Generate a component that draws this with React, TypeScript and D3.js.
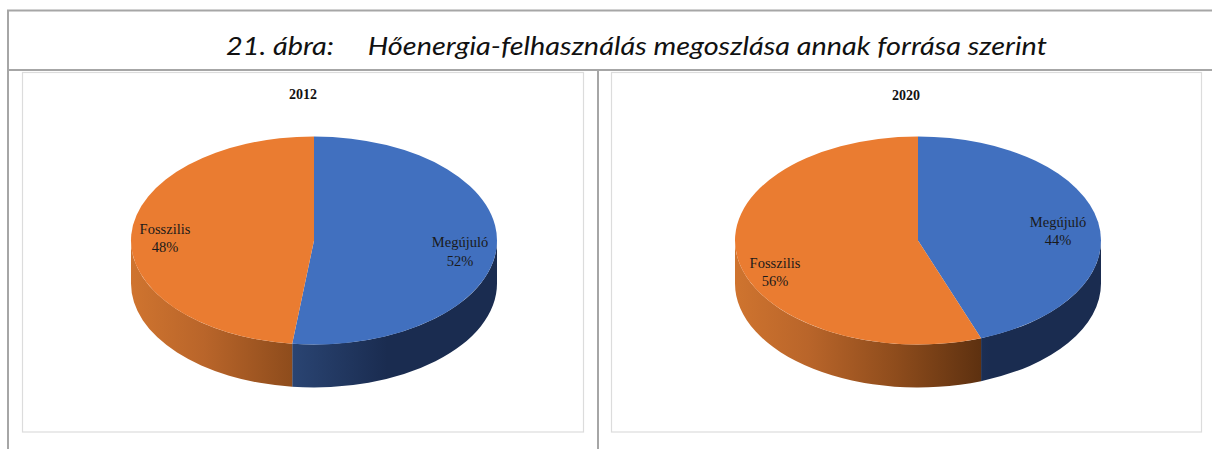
import React from "react";
import * as d3 from "d3";

const categories = ["Megújuló", "Fosszilis"];
const years = ["2012", "2020"];
const values2012 = [51.9, 48.1];
const values2020 = [44.4, 55.6];
const titleText = "21. ábra:\u00a0\u00a0\u00a0\u00a0\u00a0Hőenergia-felhasználás megoszlása annak forrása szerint";

const W = 1212, H = 449;
const RX = 183, RY = 104, DEPTH = 43, CY = 240.5;
const LINE = "#a6a6a6";
const TOP = ["#4170bf", "#ea7c31"];

const panels = [
  { year: years[0], values: values2012, cx: 314, box: [22.5, 72.5, 561, 359.5], titleX: 303, titleY: 99,
    labels: [[460, 247], [165, 233.5]] },
  { year: years[1], values: values2020, cx: 918, box: [611.5, 72.5, 590, 359.5], titleX: 906, titleY: 100,
    labels: [[1058, 226.5], [775, 267.5]] },
];

const pt = (t: number, cx: number, cy: number) => [cx + RX * Math.sin(t), cy - RY * Math.cos(t)];

function sidePath(a0: number, a1: number, cx: number) {
  const s = Math.max(a0, Math.PI / 2), e = Math.min(a1, (3 * Math.PI) / 2);
  if (e <= s) return null;
  const [x0, y0] = pt(s, cx, CY), [x1, y1] = pt(e, cx, CY);
  return `M${x0},${y0}A${RX},${RY} 0 0 1 ${x1},${y1}L${x1},${y1 + DEPTH}A${RX},${RY} 0 0 0 ${x0},${y0 + DEPTH}Z`;
}

function Pie3D({ p, idx }: { p: (typeof panels)[number]; idx: number }) {
  const arcs = d3.pie<number>().sort(null).startAngle(0).endAngle(2 * Math.PI)(p.values);
  const arc = d3.arc<d3.PieArcDatum<number>>().innerRadius(0).outerRadius(RX);
  const gx = (f: number) => p.cx - RX + f * 2 * RX;
  return (
    <g>
      <defs>
        <linearGradient id={`b${idx}`} gradientUnits="userSpaceOnUse" x1={gx(0)} x2={gx(1)} y1={0} y2={0}>
          <stop offset="0.42" stopColor="#2b4675" />
          <stop offset="0.7" stopColor="#1a2c50" />
          <stop offset="1" stopColor="#1a2c50" />
        </linearGradient>
        <linearGradient id={`o${idx}`} gradientUnits="userSpaceOnUse" x1={gx(0)} x2={gx(1)} y1={0} y2={0}>
          <stop offset="0" stopColor="#cf742f" />
          <stop offset="0.2" stopColor="#b9652a" />
          <stop offset="0.44" stopColor="#8e4c1c" />
          <stop offset="0.67" stopColor="#5e3110" />
          <stop offset="1" stopColor="#4a270c" />
        </linearGradient>
      </defs>
      <rect x={p.box[0]} y={p.box[1]} width={p.box[2]} height={p.box[3]} fill="#fff" stroke="#dcdcdc" strokeWidth={1.2} />
      <text x={p.titleX} y={p.titleY} textAnchor="middle" fontFamily="'Liberation Serif', serif" fontWeight="bold" fontSize={14} fill="#111">{p.year}</text>
      {arcs.map((a, i) => {
        const d = sidePath(a.startAngle, a.endAngle, p.cx);
        return d ? <path key={i} d={d} fill={`url(#${i === 0 ? "b" : "o"}${idx})`} /> : null;
      })}
      <g transform={`translate(${p.cx},${CY}) scale(1,${RY / RX})`}>
        {arcs.map((a, i) => <path key={i} d={arc(a) as string} fill={TOP[i]} />)}
      </g>
      {arcs.map((a, i) => (
        <text key={i} textAnchor="middle" fontFamily="'Liberation Serif', serif" fontSize={14.5} fill="#1a1a1a">
          <tspan x={p.labels[i][0]} y={p.labels[i][1]}>{categories[i]}</tspan>
          <tspan x={p.labels[i][0]} y={p.labels[i][1] + 18.5}>{`${Math.round(a.data)}%`}</tspan>
        </text>
      ))}
    </g>
  );
}

export default function App() {
  return (
    <svg width={W} height={H} viewBox={`0 0 ${W} ${H}`} style={{ position: "absolute", left: 0, top: 0, background: "#fff" }}>
      <g stroke={LINE} strokeWidth={2} fill="none">
        <path d={`M${W},10.5H8V${H}`} />
        <path d={`M8,70H${W}`} />
        <path d={`M598,70V${H}`} />
      </g>
      <text x={636.5} y={55} textAnchor="middle" textLength={821} lengthAdjust="spacingAndGlyphs" fontFamily="Lato, sans-serif" fontStyle="italic" fontSize={26} fill="#111">{titleText}</text>
      {panels.map((p, i) => <Pie3D key={p.year} p={p} idx={i} />)}
    </svg>
  );
}
